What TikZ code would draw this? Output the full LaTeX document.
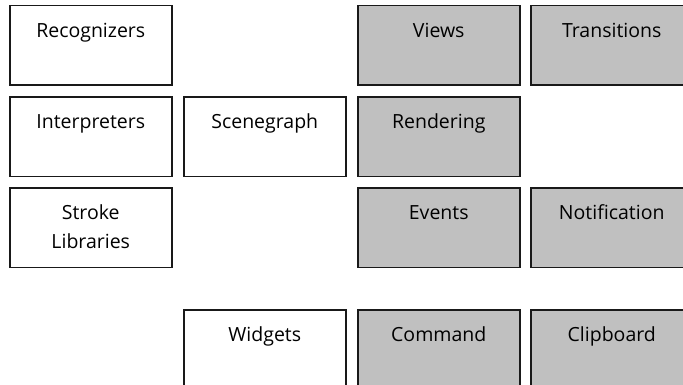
\documentclass[tikz,border=0pt]{standalone}
\usepackage{fontspec}
\setmainfont{Open Sans}
\begin{document}
\begin{tikzpicture}[x=1pt,y=-1pt,
  box/.style={draw=black!90, line width=1.5pt, rectangle, inner sep=0pt,
    minimum width=162pt, minimum height=79.5pt, anchor=north west},
  plain/.style={box, fill=white},
  shaded/.style={box, fill=shadegray},
  lbl/.style={anchor=base, inner sep=0pt, align=center,
    font=\fontsize{19.5pt}{29pt}\selectfont}]
\definecolor{shadegray}{HTML}{C0C0C0}
\useasboundingbox (0,0) rectangle (683,385);
\clip (0,0) rectangle (683,385);

% column and row origins
\def\cA{9}\def\cB{183}\def\cC{357}\def\cD{530}
\def\rA{5}\def\rB{96.3}\def\rC{187.3}\def\rD{309.3}

% boxes
\node[plain]  (rec)  at (\cA,\rA) {};
\node[shaded] (view) at (\cC,\rA) {};
\node[shaded] (tran) at (\cD,\rA) {};
\node[plain]  (intp) at (\cA,\rB) {};
\node[plain]  (scen) at (\cB,\rB) {};
\node[shaded] (rend) at (\cC,\rB) {};
\node[plain]  (strk) at (\cA,\rC) {};
\node[shaded] (evnt) at (\cC,\rC) {};
\node[shaded] (noti) at (\cD,\rC) {};
\node[plain]  (widg) at (\cB,\rD) {};
\node[shaded] (comm) at (\cC,\rD) {};
\node[shaded] (clip) at (\cD,\rD) {};

% titles, set near the top edge of each box (base = last line)
\node[lbl] (recT)  at ([yshift=-32.5pt]rec.north)  {Recognizers};
\node[lbl] (viewT) at ([yshift=-32.5pt]view.north) {Views};
\node[lbl] (tranT) at ([yshift=-32.5pt]tran.north) {Transitions};
\node[lbl] (intpT) at ([yshift=-32.5pt]intp.north) {Interpreters};
\node[lbl] (scenT) at ([yshift=-32.5pt]scen.north) {Scenegraph};
\node[lbl] (rendT) at ([yshift=-32.5pt]rend.north) {Rendering};
\node[lbl] (strkT) at ([yshift=-61.5pt]strk.north) {Stroke\\Libraries};
\node[lbl] (evntT) at ([yshift=-32.5pt]evnt.north) {Events};
\node[lbl] (notiT) at ([yshift=-32.5pt]noti.north) {Notification};
\node[lbl] (widgT) at ([yshift=-32.5pt]widg.north) {Widgets};
\node[lbl] (commT) at ([yshift=-32.5pt]comm.north) {Command};
\node[lbl] (clipT) at ([yshift=-32.5pt]clip.north) {Clipboard};
\end{tikzpicture}
\end{document}
